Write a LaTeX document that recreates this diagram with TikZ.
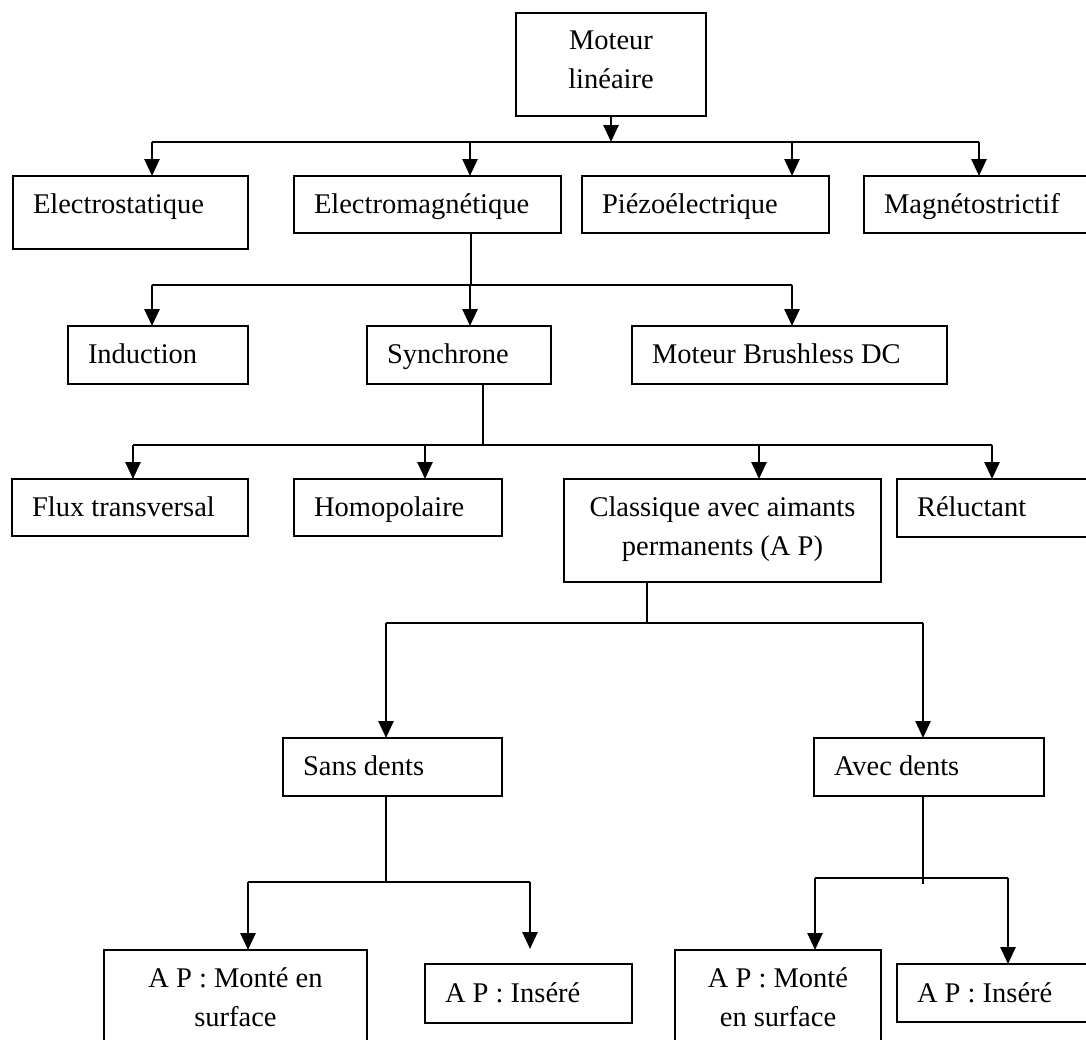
\documentclass[tikz,border=0pt]{standalone}
\usepackage{fontspec}
\setmainfont{Liberation Serif}
\usetikzlibrary{arrows.meta}
\newcommand\mainsz{\fontsize{28.5pt}{39.5pt}\selectfont}
\begin{document}
\begin{tikzpicture}[x=1pt,y=-1pt,
  box/.style={draw, line width=2pt, anchor=north west, inner xsep=20pt, inner ysep=0pt, outer sep=0pt, font=\mainsz},
  arr/.style={line width=2.6pt, -{Triangle[length=17pt,width=15pt]}},
  bus/.style={line width=2.6pt},
  stem/.style={line width=1.4pt}]
\fill[white] (0,0) rectangle (1086,1039);
\useasboundingbox (0,0) rectangle (1086,1039);

% level 0
\node[box, text width=150pt, align=flush center, text height=36pt, text depth=67pt] (ML) at (516,13) {Moteur\\lin\'eaire};
% level 1
\node[box, text width=195pt, align=flush left, text height=37pt, text depth=36pt] (E1) at (13,176) {Electrostatique};
\node[box, text width=227pt, align=flush left, text height=37pt, text depth=20pt] (E2) at (294,176) {Electromagn\'etique};
\node[box, text width=207pt, align=flush left, text height=37pt, text depth=20pt] (E3) at (582,176) {Pi\'ezo\'electrique};
\node[box, text width=191pt, align=flush left, text height=37pt, text depth=20pt] (E4) at (864,176) {Magn\'etostrictif};
% level 2
\node[box, text width=140pt, align=flush left, text height=37pt, text depth=21pt] (I1) at (68,326) {Induction};
\node[box, text width=144pt, align=flush left, text height=37pt, text depth=21pt] (S1) at (367,326) {Synchrone};
\node[box, text width=275pt, align=flush left, text height=37pt, text depth=21pt] (B1) at (632,326) {Moteur Brushless DC};
% level 3
\node[box, text width=196pt, align=flush left, text height=37pt, text depth=20pt] (F1) at (12,479) {Flux transversal};
\node[box, text width=168pt, align=flush left, text height=37pt, text depth=20pt] (H1) at (294,479) {Homopolaire};
\node[box, text width=277pt, align=flush center, text height=37pt, text depth=66pt] (C1) at (564,479) {Classique avec aimants\\permanents (A P)};
\node[box, text width=158pt, align=flush left, text height=37pt, text depth=21pt] (R1) at (897,479) {R\'eluctant};
% level 4
\node[box, text width=179pt, align=flush left, text height=37pt, text depth=21pt] (SD) at (283,738) {Sans dents};
\node[box, text width=190pt, align=flush left, text height=37pt, text depth=21pt] (AD) at (814,738) {Avec dents};
% level 5
\node[box, text width=223pt, align=flush center, text height=37pt, text depth=63pt] (M1) at (104,950) {A P : Mont\'e en\\surface};
\node[box, text width=167pt, align=flush left, text height=38pt, text depth=21pt] (N1) at (425,964) {A P : Ins\'er\'e};
\node[box, text width=166pt, align=flush center, text height=37pt, text depth=63pt] (M2) at (675,950) {A P : Mont\'e\\en surface};
\node[box, text width=158pt, align=flush left, text height=38pt, text depth=20pt] (N2) at (897,964) {A P : Ins\'er\'e};

% connectors level 1
\coordinate (b1L) at (152,142);
\coordinate (b1a) at (470,142);
\coordinate (b1b) at (792,142);
\coordinate (b1R) at (979,142);
\draw[arr] (ML.south) -- (ML.south |- b1L);
\draw[bus] (b1L) -- (b1R);
\draw[arr] (b1L) -- (b1L |- E1.north);
\draw[arr] (b1a) -- (b1a |- E2.north);
\draw[arr] (b1b) -- (b1b |- E3.north);
\draw[arr] (b1R) -- (b1R |- E4.north);

% level 2
\coordinate (b2s) at (471,285);
\coordinate (b2L) at (152,285);
\coordinate (b2a) at (470,285);
\coordinate (b2R) at (792,285);
\draw[stem] (b2s |- E2.south) -- (b2s);
\draw[bus] (b2L) -- (b2R);
\draw[arr] (b2L) -- (b2L |- I1.north);
\draw[arr] (b2a) -- (b2a |- S1.north);
\draw[arr] (b2R) -- (b2R |- B1.north);

% level 3
\coordinate (b3s) at (483,445);
\coordinate (b3L) at (133,445);
\coordinate (b3a) at (425,445);
\coordinate (b3b) at (759,445);
\coordinate (b3R) at (992,445);
\draw[stem] (b3s |- S1.south) -- (b3s);
\draw[bus] (b3L) -- (b3R);
\draw[arr] (b3L) -- (b3L |- F1.north);
\draw[arr] (b3a) -- (b3a |- H1.north);
\draw[arr] (b3b) -- (b3b |- C1.north);
\draw[arr] (b3R) -- (b3R |- R1.north);

% level 4
\coordinate (b4s) at (647,623);
\coordinate (b4L) at (386,623);
\coordinate (b4R) at (923,623);
\draw[stem] (b4s |- C1.south) -- (b4s);
\draw[bus] (b4L) -- (b4R);
\draw[arr] (b4L) -- (b4L |- SD.north);
\draw[arr] (b4R) -- (b4R |- AD.north);

% level 5 left
\coordinate (b5s) at (386,882);
\coordinate (b5L) at (248,882);
\coordinate (b5R) at (530,882);
\coordinate (b5end) at (530,949);
\draw[stem] (b5s |- SD.south) -- (b5s);
\draw[bus] (b5L) -- (b5R);
\draw[arr] (b5L) -- (b5L |- M1.north);
\draw[arr] (b5R) -- (b5end);

% level 5 right
\coordinate (b6s) at (923,884);
\coordinate (b6L) at (815,878);
\coordinate (b6R) at (1008,878);
\draw[stem] (b6s |- AD.south) -- (b6s);
\draw[bus] (b6L) -- (b6R);
\draw[arr] (b6L) -- (b6L |- M2.north);
\draw[arr] (b6R) -- (b6R |- N2.north);
\end{tikzpicture}
\end{document}
